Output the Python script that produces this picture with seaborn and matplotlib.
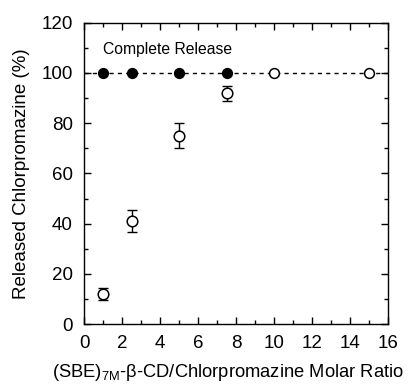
import matplotlib
matplotlib.use("Agg")
import matplotlib.pyplot as plt
import seaborn as sns
import pandas as pd
from matplotlib.ticker import MultipleLocator

sns.set_theme(style="ticks")
plt.rcParams['font.family'] = ['Liberation Sans', 'DejaVu Sans']
plt.rcParams['mathtext.fontset'] = 'custom'
plt.rcParams['mathtext.rm'] = 'Liberation Sans'
plt.rcParams['mathtext.it'] = 'Liberation Sans'
plt.rcParams['text.color'] = 'black'
plt.rcParams['axes.labelcolor'] = 'black'
plt.rcParams['xtick.color'] = 'black'
plt.rcParams['ytick.color'] = 'black'

# Data
ratio_partial = [1, 2.5, 5, 7.5]
release_partial = [12, 41, 75, 92]
err_partial = [2.5, 4.5, 5, 3]

ratio_complete_filled = [1, 2.5, 5, 7.5]
ratio_complete_open = [10, 15]
complete_value = 100

df_partial = pd.DataFrame({"ratio": ratio_partial, "release": release_partial, "err": err_partial})
df_filled = pd.DataFrame({"ratio": ratio_complete_filled, "release": [complete_value] * len(ratio_complete_filled)})
df_open = pd.DataFrame({"ratio": ratio_complete_open, "release": [complete_value] * len(ratio_complete_open)})

fig = plt.figure(figsize=(4.12, 3.85), dpi=100)
ax = fig.add_axes([0.204, 0.158, 0.738, 0.783])

ax.axhline(complete_value, color="black", ls=(0, (3, 3)), lw=1, zorder=1)

ax.errorbar(df_partial["ratio"], df_partial["release"], yerr=df_partial["err"],
            fmt="none", ecolor="black", elinewidth=1, capsize=3.5, capthick=1, zorder=2)
sns.scatterplot(data=df_partial, x="ratio", y="release", ax=ax, marker="o", s=58,
                facecolor="white", edgecolor="black", linewidth=1.1, zorder=3)
sns.scatterplot(data=df_filled, x="ratio", y="release", ax=ax, marker="o", s=50,
                color="black", edgecolor="black", linewidth=1, zorder=3)
sns.scatterplot(data=df_open, x="ratio", y="release", ax=ax, marker="o", s=50,
                facecolor="white", edgecolor="black", linewidth=1.1, zorder=3)

ax.text(1, 106.5, "Complete Release", fontsize=11.3, ha="left", va="bottom", color="black")

ax.set_xlim(0, 16)
ax.set_ylim(0, 120)
ax.xaxis.set_major_locator(MultipleLocator(2))
ax.xaxis.set_minor_locator(MultipleLocator(1))
ax.yaxis.set_major_locator(MultipleLocator(20))
ax.yaxis.set_minor_locator(MultipleLocator(10))
ax.tick_params(which="both", direction="in", top=True, right=True, color="black", labelcolor="black")
ax.tick_params(which="major", length=5, width=1, labelsize=13.5, pad=8)
ax.tick_params(which="minor", length=3, width=1)
for s in ax.spines.values():
    s.set_linewidth(1)
    s.set_color("black")

ax.set_xlabel(r"(SBE)$_{\mathregular{7M}}$-β-CD/Chlorpromazine Molar Ratio", fontsize=13.2, labelpad=7)
ax.xaxis.label.set_x(0.475)
ax.set_ylabel("Released Chlorpromazine (%)", fontsize=13.5, labelpad=8)

fig.savefig("out.png", dpi=100)
